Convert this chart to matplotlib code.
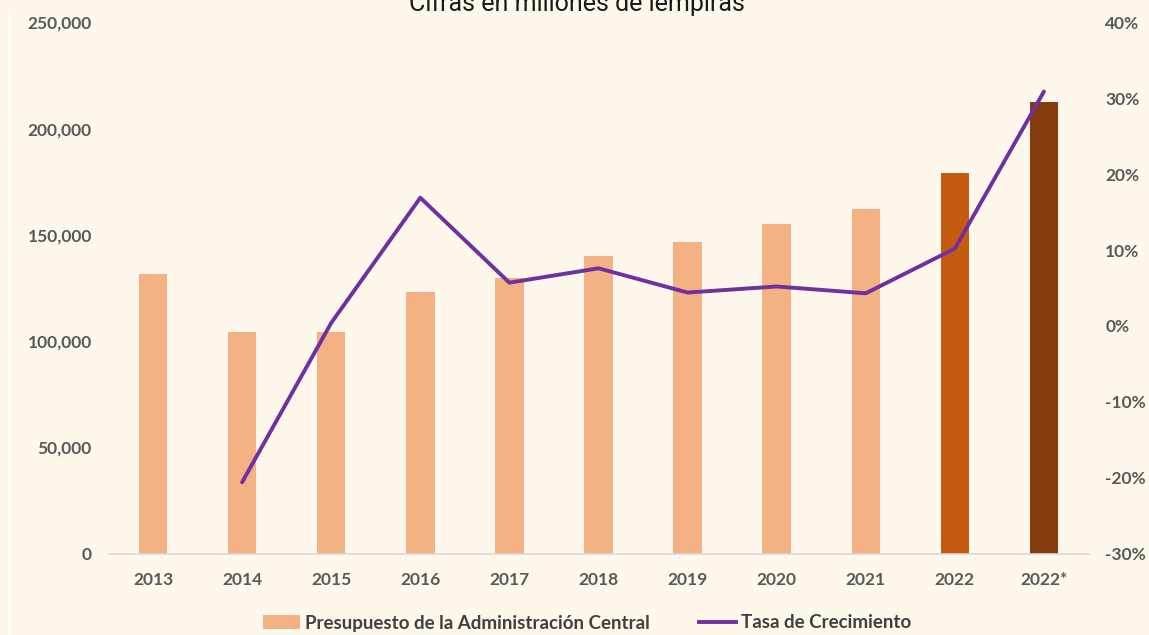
import matplotlib
matplotlib.use("Agg")
import matplotlib.pyplot as plt
from matplotlib.ticker import FuncFormatter
from matplotlib.lines import Line2D
from matplotlib.patches import Patch

# ---- data ----
years = ["2013", "2014", "2015", "2016", "2017", "2018", "2019", "2020", "2021", "2022", "2022*"]
presupuesto = [131500, 104500, 104500, 122900, 129800, 140000, 146800, 155000, 162000, 179300, 212800]
tasa_years = ["2014", "2015", "2016", "2017", "2018", "2019", "2020", "2021", "2022", "2022*"]
tasa = [-20.6, 0.4, 16.9, 5.7, 7.6, 4.4, 5.2, 4.3, 10.2, 30.9]
left_ticks = [0, 50000, 100000, 150000, 200000, 250000]
right_ticks = [-30, -20, -10, 0, 10, 20, 30, 40]
bar_colors = ["#F4B183"] * 9 + ["#C55A11", "#843C0C"]

title = "Cifras en millones de lempiras"
label_bar = "Presupuesto de la Administración Central"
label_line = "Tasa de Crecimiento"

BG = "#FEF7EC"
TICKC = "#595959"

fig = plt.figure(figsize=(11.49, 6.35), dpi=100, facecolor=BG)
ax = fig.add_axes([108.5 / 1149, 1 - 553.5 / 635, 980 / 1149, 531 / 635])
ax.set_facecolor(BG)
x = list(range(len(years)))
ax.bar(x, presupuesto, width=0.32, color=bar_colors, edgecolor="none", zorder=2)
ax.set_xlim(-0.5, len(years) - 0.5)
ax.set_ylim(0, 250000)
ax.set_yticks(left_ticks)
ax.yaxis.set_major_formatter(FuncFormatter(lambda v, p: f"{int(v):,}"))
ax.set_xticks(x)
ax.set_xticklabels(years)
for s in ["top", "right", "left"]:
    ax.spines[s].set_visible(False)
ax.spines["bottom"].set_color("#D9D9D9")
ax.spines["bottom"].set_linewidth(1.2)
ax.tick_params(axis="both", length=0, colors=TICKC, labelsize=12.5)
ax.tick_params(axis="x", pad=13)
ax.tick_params(axis="y", pad=12)
for lab in ax.get_xticklabels() + ax.get_yticklabels():
    lab.set_fontfamily("Lato")
    lab.set_fontweight("bold")

ax2 = ax.twinx()
xi = [years.index(y) for y in tasa_years]
ax2.plot(xi, tasa, color="#7030A0", lw=2.8, solid_joinstyle="round", solid_capstyle="round", zorder=3)
ax2.set_ylim(-30, 40)
ax2.set_yticks(right_ticks)
ax2.yaxis.set_major_formatter(FuncFormatter(lambda v, p: f"{int(round(v))}%"))
for s in ["top", "right", "left", "bottom"]:
    ax2.spines[s].set_visible(False)
ax2.tick_params(axis="y", length=0, colors=TICKC, labelsize=12.5, pad=12)
for lab in ax2.get_yticklabels():
    lab.set_fontfamily("Lato")
    lab.set_fontweight("bold")

fig.text(0.5025, 1 - 11 / 635, title, ha="center", va="baseline", fontsize=18,
         fontfamily="Roboto", color="#1a1a1a")

handles = [Patch(facecolor="#F4B183", edgecolor="none"),
           Line2D([0], [0], color="#7030A0", lw=2.8)]
leg = fig.legend(handles, [label_bar, label_line], loc="center",
                 bbox_to_anchor=(587 / 1149, 1 - 623 / 635), ncol=2, frameon=False,
                 prop={"family": "Lato", "weight": "bold", "size": 13.5},
                 handlelength=2.0, handleheight=0.7, handletextpad=0.25, columnspacing=2.6)
for t in leg.get_texts():
    t.set_color("#404040")

fig.add_artist(Line2D([8.5 / 1149, 8.5 / 1149], [0, 1 - 10 / 635], transform=fig.transFigure,
                      color="white", lw=1.5))

fig.savefig("out.png", dpi=100, facecolor=BG)
